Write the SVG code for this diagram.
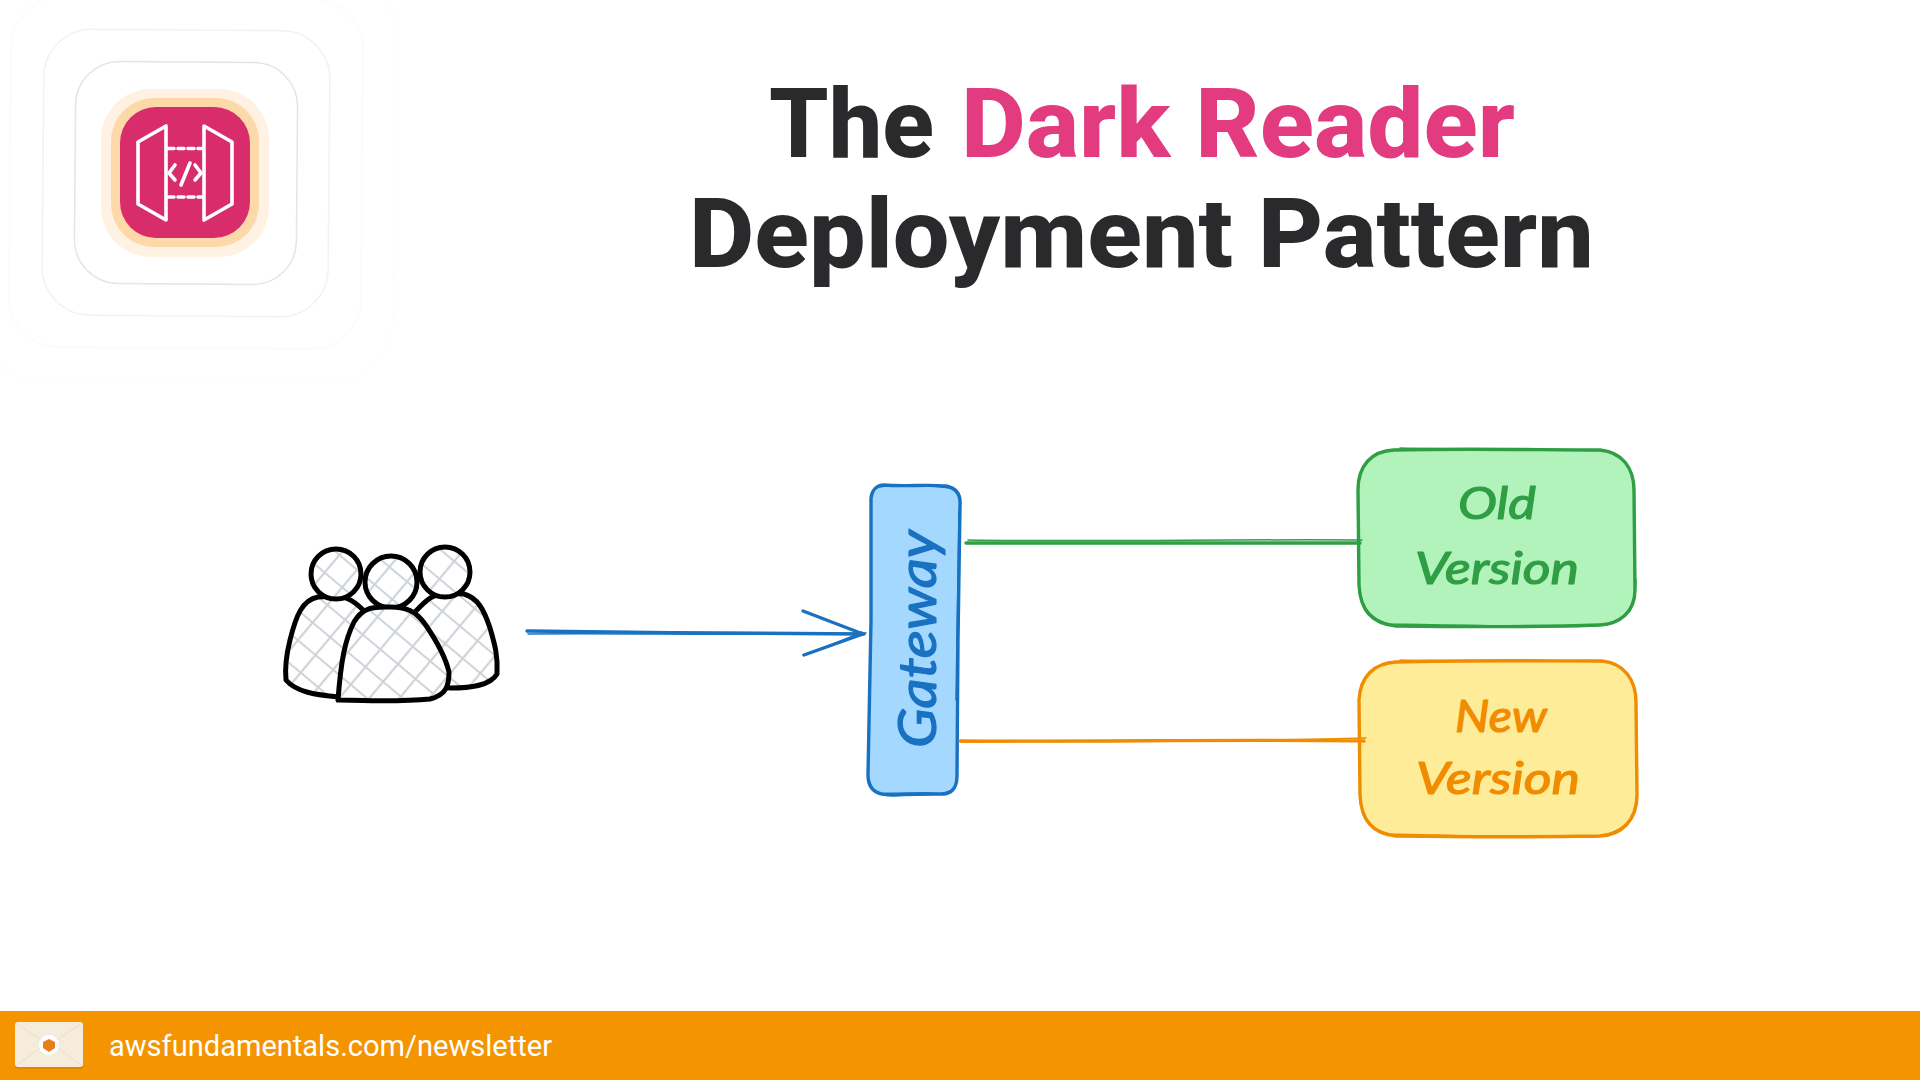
<svg xmlns="http://www.w3.org/2000/svg" width="1920" height="1080" viewBox="0 0 1920 1080">
  <style>
    .title { font-family: Roboto, "Liberation Sans", sans-serif; font-weight: 800; font-size: 97px; fill: #2a2a2c; }
    .pink { fill: #e23b7f; }
    .hand { font-family: Lato, "Noto Sans", sans-serif; font-style: italic; font-size: 45px; text-anchor: start; stroke-width: 1.2; stroke-linejoin: round; }
    .ring { fill: none; stroke: #e3e5ea; stroke-width: 1.5; }
    .body { stroke: #000; stroke-width: 5; stroke-linejoin: round; stroke-linecap: round; fill: url(#hatch); }
    .thin { fill: none; stroke-width: 1.5; stroke-linecap: round; }
    .thick { stroke-width: 3.4; stroke-linecap: round; stroke-linejoin: round; }
    .blue { stroke: #1971c2; }
    .green { stroke: #2f9e44; }
    .orange { stroke: #f08c00; }
    .door { fill: none; stroke: #fff; stroke-width: 3.6; stroke-linejoin: round; stroke-linecap: round; }
  </style>
  <defs>
    <pattern id="hatch" width="23" height="23" patternUnits="userSpaceOnUse" patternTransform="rotate(40 336 573)">
      <rect width="23" height="23" fill="#fff"/>
      <path d="M0 5H23M5 0V23" stroke="#ced4da" stroke-width="2.2" fill="none"/>
    </pattern>
  </defs>
  <rect width="1920" height="1080" fill="#fff"/>

  <g id="aws-icon">
    <g transform="rotate(0.5 186 172)">
      <rect class="ring" x="-22" y="-30" width="416" height="410" rx="60" opacity="0.06"/>
      <rect class="ring" x="10" y="-2" width="352" height="350" rx="50" opacity="0.16"/>
      <rect class="ring" x="43" y="30" width="286" height="286" rx="48" opacity="0.5"/>
      <rect class="ring" x="75" y="62" width="222" height="222" rx="44"/>
    </g>
    <rect x="101" y="89" width="168" height="168" rx="50" fill="#fff2e3"/>
    <rect x="111" y="98" width="148" height="149" rx="43" fill="#fdd8a9"/>
    <rect x="120" y="107" width="130" height="131" rx="36" fill="#d92d6b"/>
    <path class="door" d="M138 142L166 126V220L138 204Z"/>
    <path class="door" d="M204 126L232 142V204L204 220Z"/>
    <path class="door" d="M168 148.500H203M168 197H203" stroke-dasharray="6 4" stroke-linecap="butt"/>
    <path class="door" d="M175 165L169 173L175 180M195 165L201 173L195 180M190 163L181 185"/>
  </g>

  <g id="title">
    <text class="title" x="769" y="157" textLength="165" lengthAdjust="spacingAndGlyphs">The</text>
    <text class="title pink" x="961" y="157" textLength="554" lengthAdjust="spacingAndGlyphs">Dark Reader</text>
    <text class="title" x="689" y="267" textLength="905" lengthAdjust="spacingAndGlyphs">Deployment Pattern</text>
  </g>

  <g id="users">
    <path class="body" d="M367 614C354 600 346 597 338 596L318 597C302 600 296 616 290 640C286 656 285 670 286 680C296 692 316 695 339 697L380 690L390 640Z"/>
    <path class="body" d="M415 612C428 598 434 594 446 593L464 594C478 598 484 610 490 628C495 645 498 656 497 674C490 686 470 688 450 688L400 680Z"/>
    <circle class="body" cx="336" cy="574" r="25"/>
    <circle class="body" cx="445" cy="572" r="25"/>
    <circle class="body" cx="391" cy="582" r="26"/>
    <path class="body" d="M338 700C341 660 345 640 354 622C364 605 378 607 390 607C405 607 415 610 425 624C436 640 445 655 449 672C449 686 446 695 430 699C400 702 370 701 338 700Z"/>
  </g>

  <g id="gateway">
    <path d="M884 485C905 486 925 484 946 486C957 488 961 495 960 506L958 640L957 776C957 790 950 795 938 794C915 793 895 795 882 794C872 792 868 785 868 775L871 620L871 498C872 490 877 485 884 485Z" fill="#a5d8ff"/>
    <path class="thick blue" fill="none" d="M884 485C905 487 925 484 946 486C957 488 961 495 960 506L958 640L957 776C957 790 950 795 938 794C915 793 895 795 882 794C872 792 868 785 868 775L871 620L871 498C872 490 877 485 884 485Z"/>
    <path class="thin blue" d="M878 487C900 484 930 485 950 488C960 492 962 500 959 512L956 700M869 778C870 790 880 797 895 796C915 794 935 797 950 791"/>
    <text class="hand" x="0" y="0" transform="translate(936 748) rotate(-90)" textLength="218" lengthAdjust="spacingAndGlyphs" fill="#1971c2" stroke="#1971c2" style="font-size:52px;stroke-width:1.2">Gateway</text>
  </g>

  <g id="old-version">
    <path d="M1394 450C1470 448 1540 450 1600 450C1622 452 1634 468 1634 490L1635 590C1635 612 1620 624 1600 625C1540 627 1470 627 1396 626C1372 624 1360 610 1359 585L1358 490C1358 465 1372 451 1394 450Z" fill="#b2f2bb"/>
    <path class="thick green" fill="none" d="M1394 450C1470 448 1540 450 1600 450C1622 452 1634 468 1634 490L1635 590C1635 612 1620 624 1600 625C1540 627 1470 627 1396 626C1372 624 1360 610 1359 585L1358 490C1358 465 1372 451 1394 450Z"/>
    <path class="thin green" d="M1400 448C1470 450 1540 447 1605 451M1636 580C1635 610 1625 622 1595 626C1540 628 1470 625 1390 624C1372 620 1362 608 1360 590"/>
    <text class="hand" x="1458" y="519" textLength="78" lengthAdjust="spacingAndGlyphs" fill="#2f9e44" stroke="#2f9e44">Old</text>
    <text class="hand" x="1415" y="584" textLength="164" lengthAdjust="spacingAndGlyphs" fill="#2f9e44" stroke="#2f9e44">Version</text>
  </g>

  <g id="new-version">
    <path d="M1396 662C1470 660 1540 661 1602 661C1624 663 1636 680 1636 702L1637 795C1637 820 1622 835 1600 836C1540 837 1470 837 1396 836C1372 834 1361 820 1360 795L1359 700C1360 677 1374 663 1396 662Z" fill="#ffec99"/>
    <path class="thick orange" fill="none" d="M1396 662C1470 660 1540 661 1602 661C1624 663 1636 680 1636 702L1637 795C1637 820 1622 835 1600 836C1540 837 1470 837 1396 836C1372 834 1361 820 1360 795L1359 700C1360 677 1374 663 1396 662Z"/>
    <path class="thin orange" d="M1400 660C1470 662 1540 659 1606 662M1637 790C1636 820 1625 832 1595 837C1540 838 1470 836 1390 834C1372 830 1362 818 1361 800"/>
    <text class="hand" x="1455" y="732" textLength="92" lengthAdjust="spacingAndGlyphs" fill="#f08c00" stroke="#f08c00">New</text>
    <text class="hand" x="1416" y="794" textLength="164" lengthAdjust="spacingAndGlyphs" fill="#f08c00" stroke="#f08c00">Version</text>
  </g>

  <g id="connectors" fill="none">
    <path class="thick blue" d="M527 631C640 632 750 634 864 634"/>
    <path class="thin blue" d="M528 634C640 633 750 636 866 633"/>
    <path class="thick blue" d="M803 611L863 634L804 655"/>
    <path class="thin blue" d="M803 655C825 647 845 640 862 632"/>
    <path class="thick green" d="M966 543C1100 544 1230 542 1360 543"/>
    <path class="thin green" d="M968 540C1100 542 1230 539 1362 540"/>
    <path class="thick orange" d="M960 741C1100 742 1230 739 1364 741"/>
    <path class="thin orange" d="M962 742C1100 740 1230 742 1366 738"/>
  </g>

  <g id="footer">
    <rect x="0" y="1011" width="1920" height="69" fill="#f49400"/>
    <rect x="15" y="1024" width="68" height="45" rx="3" fill="#e08600"/>
    <rect x="15" y="1022" width="68" height="45" rx="3" fill="#f6ecdc"/>
    <path d="M17 1024L49 1045L81 1024M17 1065L40 1048M81 1065L58 1048" fill="none" stroke="#ebdfc9" stroke-width="1"/>
    <circle cx="49" cy="1045" r="10" fill="#fff"/>
    <path d="M49 1039L55 1042V1048L49 1052L43 1048V1042Z" fill="#e8801a"/>
    <text x="109" y="1056" textLength="443" lengthAdjust="spacingAndGlyphs" style="font-family:Roboto,'Liberation Sans',sans-serif;font-size:30px;font-weight:400" fill="#fff">awsfundamentals.com/newsletter</text>
  </g>
</svg>
